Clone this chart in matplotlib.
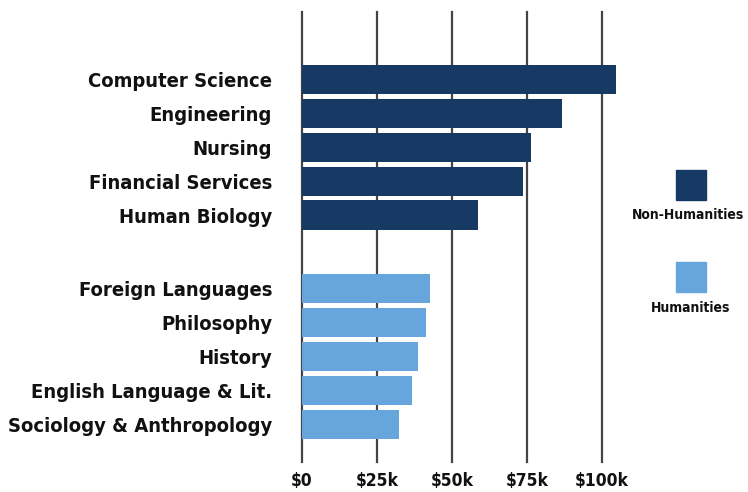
import numpy as np
import matplotlib.pyplot as plt
from matplotlib.patches import Rectangle
from matplotlib import font_manager

non_hum = ["Computer Science", "Engineering", "Nursing", "Financial Services", "Human Biology"]
non_hum_vals = [104.7, 86.7, 76.3, 73.7, 58.7]
hum = ["Foreign Languages", "Philosophy", "History", "English Language & Lit.", "Sociology & Anthropology"]
hum_vals = [42.6, 41.2, 38.6, 36.8, 32.3]
ticks = [0, 25, 50, 75, 100]
tick_labels = ["$0", "$25k", "$50k", "$75k", "$100k"]

dark = "#173a64"
light = "#66a6dc"

# use a condensed bold face if there is one
cond = [f for f in font_manager.fontManager.ttflist
        if "Condensed" in f.fname and "Bold" in f.fname and "Oblique" not in f.fname
        and "DejaVuSans" in f.fname]
if cond:
    fp = font_manager.FontProperties(fname=cond[0].fname)
    lab_size, tick_size, leg_size = 14.5, 12.5, 10
else:
    fp = font_manager.FontProperties(family="DejaVu Sans", weight="bold")
    lab_size, tick_size, leg_size = 12.5, 11, 9

W, H = 748, 492
fig = plt.figure(figsize=(W / 100, H / 100), dpi=100)
ax = fig.add_axes([302 / W, (H - 462) / H, 330 / W, 450 / H])

gap = 6.18
y_non = np.arange(len(non_hum))
y_hum = gap + np.arange(len(hum))

for x in ticks:
    ax.axvline(x, color="#444444", linewidth=1.6, zorder=1, clip_on=False)

ax.barh(y_non, non_hum_vals, height=0.86, color=dark, zorder=2)
ax.barh(y_hum, hum_vals, height=0.86, color=light, zorder=2)

ax.set_xlim(0, 110)
ax.set_ylim(11.3, -2.0)
for s in ax.spines.values():
    s.set_visible(False)

ax.set_yticks(np.concatenate([y_non, y_hum]))
ax.set_yticklabels(non_hum + hum, fontproperties=fp, fontsize=lab_size, color="#111111")
ax.tick_params(axis='y', length=0, pad=21.5)
ax.set_xticks(ticks)
ax.set_xticklabels(tick_labels, fontproperties=fp, fontsize=tick_size, color="#111111")
ax.tick_params(axis='x', length=0, pad=7)

# legend
fig.patches.append(Rectangle((676 / W, (H - 200) / H), 30 / W, 30 / H,
                             transform=fig.transFigure, color=dark))
fig.text(688 / W, (H - 215) / H, "Non-Humanities", ha='center', va='center',
         fontproperties=fp, fontsize=leg_size, color="#111111")
fig.patches.append(Rectangle((676 / W, (H - 292) / H), 30 / W, 30 / H,
                             transform=fig.transFigure, color=light))
fig.text(691 / W, (H - 308) / H, "Humanities", ha='center', va='center',
         fontproperties=fp, fontsize=leg_size, color="#111111")

fig.savefig("out.png", dpi=100)
